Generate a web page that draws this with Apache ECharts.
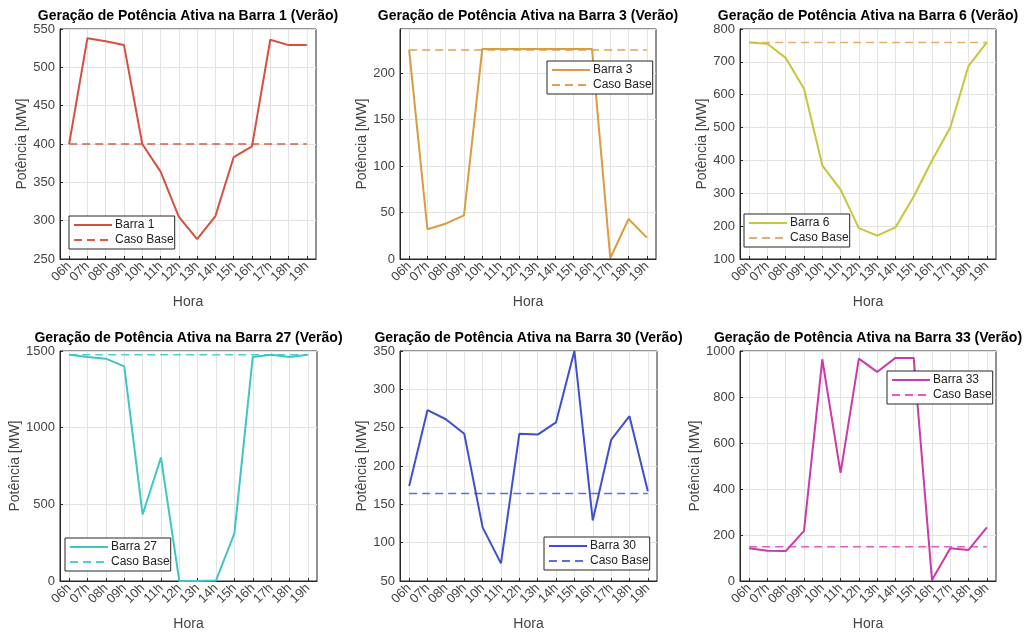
<!DOCTYPE html>
<html>
<head>
<meta charset="utf-8">
<script src="https://cdn.jsdelivr.net/npm/echarts@6/dist/echarts.min.js"></script>
<style>html,body{margin:0;padding:0;background:#fff}#c{width:1027px;height:632px}</style>
</head>
<body>
<div id="c"></div>
<script>
const horas = ['06h','07h','08h','09h','10h','11h','12h','13h','14h','15h','16h','17h','18h','19h'];

const barra1  = [400, 538, 534, 529, 400, 364, 305, 276, 306, 383, 397, 536, 529, 529];
const base1   = [400, 400, 400, 400, 400, 400, 400, 400, 400, 400, 400, 400, 400, 400];
const barra3  = [225, 32, 38, 47, 226, 226, 226, 226, 226, 226, 226, 1, 43, 23];
const base3   = [225, 225, 225, 225, 225, 225, 225, 225, 225, 225, 225, 225, 225, 225];
const barra6  = [759, 755, 712, 618, 385, 311, 194, 171, 196, 290, 400, 500, 688, 759];
const base6   = [759, 759, 759, 759, 759, 759, 759, 759, 759, 759, 759, 759, 759, 759];
const barra27 = [1476, 1461, 1450, 1400, 434, 805, 0, 0, 4, 310, 1461, 1476, 1461, 1476];
const base27  = [1476, 1476, 1476, 1476, 1476, 1476, 1476, 1476, 1476, 1476, 1476, 1476, 1476, 1476];
const barra30 = [174, 273, 261, 242, 120, 73, 242, 241, 257, 350, 129, 234, 265, 167];
const base30  = [164, 164, 164, 164, 164, 164, 164, 164, 164, 164, 164, 164, 164, 164];
const barra33 = [142, 132, 130, 218, 964, 470, 967, 909, 970, 970, 4, 142, 135, 233];
const base33  = [149, 149, 149, 149, 149, 149, 149, 149, 149, 149, 149, 149, 149, 149];

const yTicks = [
  {min: 250, max: 550, interval: 50},
  {min: 0, max: 247.5, interval: 50},
  {min: 100, max: 800, interval: 100},
  {min: 0, max: 1500, interval: 500},
  {min: 50, max: 350, interval: 50},
  {min: 0, max: 1000, interval: 200}
];

const panels = [
  {bus: '1',  data: barra1,  base: base1,  color: '#d4503f', baseColor: '#d85c4b',
   grid: {left: 60, top: 29, width: 256, height: 230}, leg: {left: 69, top: 216}, nameGap: 31},
  {bus: '3',  data: barra3,  base: base3,  color: '#d99c40', baseColor: '#dca452',
   grid: {left: 400, top: 29, width: 256, height: 230}, leg: {left: 547, top: 61}, nameGap: 31},
  {bus: '6',  data: barra6,  base: base6,  color: '#c6c63c', baseColor: '#e6ae6c',
   grid: {left: 740, top: 29, width: 256, height: 230}, leg: {left: 744, top: 214}, nameGap: 31},
  {bus: '27', data: barra27, base: base27, color: '#3ec6c6', baseColor: '#4fd0d0',
   grid: {left: 60, top: 351, width: 257, height: 230}, leg: {left: 65, top: 538}, nameGap: 37},
  {bus: '30', data: barra30, base: base30, color: '#3f4fcf', baseColor: '#5d6fe0',
   grid: {left: 400, top: 351, width: 257, height: 230}, leg: {left: 544, top: 537}, nameGap: 31},
  {bus: '33', data: barra33, base: base33, color: '#c93aab', baseColor: '#e05cc6',
   grid: {left: 740, top: 351, width: 256, height: 230}, leg: {left: 887, top: 371}, nameGap: 37}
];

const FONT = 'Liberation Sans, Arial, Helvetica, sans-serif';
const AX = '#262626';

const option = {
  animation: false,
  backgroundColor: '#ffffff',
  title: [], grid: [], xAxis: [], yAxis: [], legend: [], series: []
};

panels.forEach((p, i) => {
  const g = p.grid;
  option.grid.push(Object.assign({show: true, borderColor: AX, borderWidth: 1, backgroundColor: '#fff', containLabel: false}, g));
  option.title.push({
    text: 'Geração de Potência Ativa na Barra ' + p.bus + ' (Verão)',
    left: g.left + g.width / 2, top: g.top - 20, textAlign: 'center', padding: 0,
    textStyle: {fontFamily: FONT, fontSize: 14, fontWeight: 'bold', color: '#000'}
  });
  option.xAxis.push({
    type: 'category', gridIndex: i, data: horas, boundaryGap: true,
    name: 'Hora', nameLocation: 'middle', nameGap: 36,
    nameTextStyle: {fontFamily: FONT, fontSize: 14, color: '#444'},
    axisLine: {show: true, lineStyle: {color: AX, width: 1}},
    axisTick: {show: true, inside: true, alignWithLabel: true, length: 3, lineStyle: {color: AX}},
    axisLabel: {rotate: 45, margin: 5, interval: 0, fontFamily: FONT, fontSize: 13, color: '#444'},
    splitLine: {show: true, alignWithLabel: true, lineStyle: {color: '#e3e3e3', width: 1}}
  });
  const yt = yTicks[i];
  option.yAxis.push({
    type: 'value', gridIndex: i, min: yt.min, max: yt.max, interval: yt.interval,
    name: 'Potência [MW]', nameLocation: 'middle', nameGap: p.nameGap, nameRotate: 90,
    nameTextStyle: {fontFamily: FONT, fontSize: 14, color: '#444'},
    axisLine: {show: true, lineStyle: {color: AX, width: 1}},
    axisTick: {show: true, inside: true, length: 3, lineStyle: {color: AX}},
    axisLabel: {margin: 5, fontFamily: FONT, fontSize: 13, color: '#444',
      showMaxLabel: yt.max % yt.interval === 0,
      formatter: function (v) { return String(v); }},
    splitLine: {show: true, lineStyle: {color: '#e3e3e3', width: 1}}
  });
  const nm = 'Barra ' + p.bus;
  const bn = 'Caso Base|' + p.bus;
  option.legend.push({
    data: [nm, bn], orient: 'vertical', left: p.leg.left, top: p.leg.top,
    padding: [3, 1, 3, 4], itemGap: 3, itemWidth: 38, itemHeight: 13,
    backgroundColor: '#fff', borderColor: AX, borderWidth: 1, borderRadius: 0,
    selectedMode: false,
    itemStyle: {opacity: 0},
    formatter: function (n) { return n.indexOf('Caso Base') === 0 ? 'Caso Base' : n; },
    textStyle: {fontFamily: FONT, fontSize: 12, color: '#222', padding: [0, 0, 0, -2]}
  });
  option.series.push({
    name: bn, type: 'line', xAxisIndex: i, yAxisIndex: i, data: p.base,
    symbol: 'none', z: 2,
    lineStyle: {color: p.baseColor, width: 1.5, type: [8, 5]},
    itemStyle: {color: p.baseColor}
  });
  option.series.push({
    name: nm, type: 'line', xAxisIndex: i, yAxisIndex: i, data: p.data,
    symbol: 'none', z: 3,
    lineStyle: {color: p.color, width: 2},
    itemStyle: {color: p.color}
  });
});

const chart = echarts.init(document.getElementById('c'), null, {renderer: 'canvas'});
chart.setOption(option);
</script>
</body>
</html>
